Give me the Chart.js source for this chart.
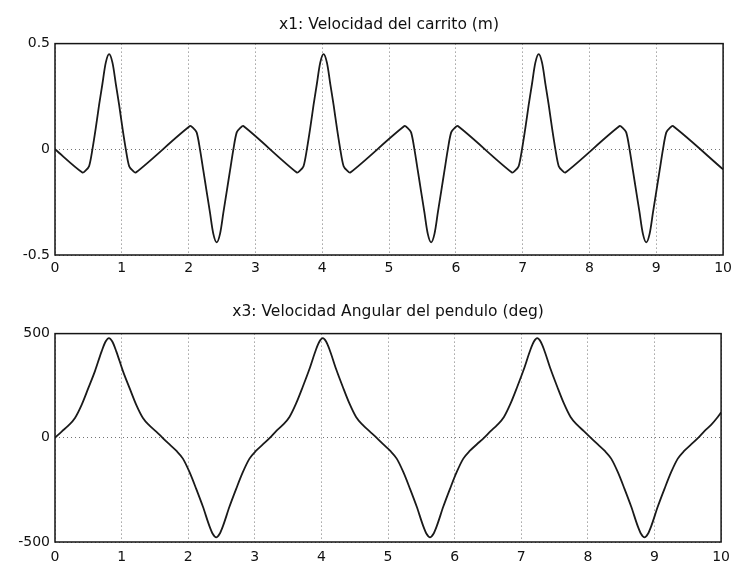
<!DOCTYPE html>
<html>
<head>
<meta charset="utf-8">
<script src="https://cdn.jsdelivr.net/npm/chart.js@4.4.1/dist/chart.umd.min.js"></script>
<style>
  html, body { margin: 0; padding: 0; background: #ffffff; }
  #c1 { position: absolute; left: 0; top: 0; }
  #c2 { position: absolute; left: 0; top: 290px; }
</style>
</head>
<body>
<canvas id="c1" width="737" height="290"></canvas>
<canvas id="c2" width="737" height="277"></canvas>
<script>
// ---------- data ----------
const titleTop = "x1: Velocidad del carrito (m)";
const titleBottom = "x3: Velocidad Angular del pendulo (deg)";

const xTicks = [0, 1, 2, 3, 4, 5, 6, 7, 8, 9, 10];
const yTicksTop = [-0.5, 0, 0.5];
const yTicksBottom = [-500, 0, 500];

// x1: cart velocity (m)
const timeTop = [
  0,
  0.41, 0.46, 0.51, 0.56, 0.61, 0.66, 0.71, 0.76, 0.81, 0.86, 0.91, 0.96, 1.01, 1.06, 1.11, 1.16, 1.21,
  2.02, 2.07, 2.12, 2.17, 2.22, 2.27, 2.32, 2.37, 2.42, 2.47, 2.52, 2.57, 2.62, 2.67, 2.72, 2.77, 2.82,
  3.62, 3.67, 3.72, 3.77, 3.82, 3.87, 3.92, 3.97, 4.02, 4.07, 4.12, 4.17, 4.22, 4.27, 4.32, 4.37, 4.42,
  5.23, 5.28, 5.33, 5.38, 5.43, 5.48, 5.53, 5.58, 5.63, 5.68, 5.73, 5.78, 5.83, 5.88, 5.93, 5.98, 6.03,
  6.84, 6.89, 6.94, 6.99, 7.04, 7.09, 7.14, 7.19, 7.24, 7.29, 7.34, 7.39, 7.44, 7.49, 7.54, 7.59, 7.64,
  8.45, 8.50, 8.55, 8.60, 8.65, 8.70, 8.75, 8.80, 8.85, 8.90, 8.95, 9.00, 9.05, 9.10, 9.15, 9.20, 9.25,
  10
];
const velTop = [
  0,
  -0.11, -0.10, -0.08, 0.00, 0.10, 0.21, 0.31, 0.41, 0.45, 0.41, 0.31, 0.21, 0.10, 0.00, -0.08, -0.10, -0.11,
  0.11, 0.10, 0.08, 0.00, -0.10, -0.20, -0.30, -0.40, -0.44, -0.40, -0.30, -0.20, -0.10, 0.00, 0.08, 0.10, 0.11,
  -0.11, -0.10, -0.08, 0.00, 0.10, 0.21, 0.31, 0.41, 0.45, 0.41, 0.31, 0.21, 0.10, 0.00, -0.08, -0.10, -0.11,
  0.11, 0.10, 0.08, 0.00, -0.10, -0.20, -0.30, -0.40, -0.44, -0.40, -0.30, -0.20, -0.10, 0.00, 0.08, 0.10, 0.11,
  -0.11, -0.10, -0.08, 0.00, 0.10, 0.21, 0.31, 0.41, 0.45, 0.41, 0.31, 0.21, 0.10, 0.00, -0.08, -0.10, -0.11,
  0.11, 0.10, 0.08, 0.00, -0.10, -0.20, -0.30, -0.40, -0.44, -0.40, -0.30, -0.20, -0.10, 0.00, 0.08, 0.10, 0.11,
  -0.095
];

// x3: pendulum angular velocity (deg)
const timeBottom = [
  0, 0.10, 0.20, 0.30, 0.40, 0.50, 0.60, 0.70, 0.76, 0.81, 0.86, 0.92, 1.02, 1.12, 1.22, 1.32, 1.42, 1.52, 1.615,
  1.72, 1.82, 1.92, 2.02, 2.12, 2.22, 2.32, 2.37, 2.42, 2.47, 2.52, 2.62, 2.72, 2.82, 2.92, 3.02, 3.12, 3.225,
  3.32, 3.42, 3.52, 3.62, 3.72, 3.82, 3.92, 3.97, 4.02, 4.07, 4.12, 4.22, 4.32, 4.42, 4.52, 4.62, 4.72, 4.83,
  4.93, 5.03, 5.13, 5.23, 5.33, 5.43, 5.53, 5.58, 5.63, 5.68, 5.73, 5.83, 5.93, 6.03, 6.13, 6.23, 6.33, 6.44,
  6.54, 6.64, 6.74, 6.84, 6.94, 7.04, 7.14, 7.19, 7.24, 7.29, 7.34, 7.44, 7.54, 7.64, 7.74, 7.84, 7.94, 8.045,
  8.15, 8.25, 8.35, 8.45, 8.55, 8.65, 8.75, 8.80, 8.85, 8.90, 8.95, 9.05, 9.15, 9.25, 9.35, 9.45, 9.55, 9.655,
  9.75, 9.85, 9.95, 10
];
const angVelBottom = [
  0, 30, 58, 95, 158, 238, 320, 415, 462, 478, 462, 415, 320, 238, 158, 95, 58, 30, 0,
  -32, -62, -100, -165, -245, -330, -425, -462, -478, -462, -425, -330, -245, -165, -100, -62, -32, 0,
  32, 62, 100, 165, 245, 330, 425, 462, 478, 462, 425, 330, 245, 165, 100, 62, 32, 0,
  -32, -62, -100, -165, -245, -330, -425, -462, -478, -462, -425, -330, -245, -165, -100, -62, -32, 0,
  32, 62, 100, 165, 245, 330, 425, 462, 478, 462, 425, 330, 245, 165, 100, 62, 32, 0,
  -32, -62, -100, -165, -245, -330, -425, -462, -478, -462, -425, -330, -245, -165, -100, -62, -32, 0,
  32, 62, 100, 122
];

// ---------- chart construction ----------
const FONT = "'DejaVu Sans', 'Liberation Sans', Arial, sans-serif";

const framePlugin = {
  id: 'frame',
  afterDraw(chart) {
    const a = chart.chartArea;
    const ctx = chart.ctx;
    ctx.save();
    ctx.strokeStyle = '#151515';
    ctx.lineWidth = 1.5;
    ctx.strokeRect(a.left, a.top, a.right - a.left, a.bottom - a.top);
    ctx.restore();
  }
};

function makeChart(canvasId, xs, ys, yTicks, title, titlePad, xAxisHeight, xLabelPad, tension, mode) {
  const pts = xs.map((x, i) => ({ x: x, y: ys[i] }));
  return new Chart(document.getElementById(canvasId), {
    type: 'line',
    data: {
      datasets: [{
        data: pts,
        borderColor: '#1a1a1a',
        borderWidth: 1.8,
        pointRadius: 0,
        fill: false,
        tension: tension,
        cubicInterpolationMode: mode
      }]
    },
    options: {
      responsive: false,
      animation: false,
      devicePixelRatio: 1,
      layout: { padding: { left: 0, right: 12, top: 0, bottom: 0 } },
      plugins: {
        legend: { display: false },
        tooltip: { enabled: false },
        title: {
          display: true,
          fullSize: false,
          text: title,
          color: '#111',
          font: { family: FONT, size: 15.5, weight: 'normal', lineHeight: 1.2 },
          padding: titlePad
        }
      },
      scales: {
        x: {
          type: 'linear',
          min: xTicks[0],
          max: xTicks[xTicks.length - 1],
          afterBuildTicks: (s) => { s.ticks = xTicks.map(v => ({ value: v })); },
          afterFit: (s) => { s.height = xAxisHeight; },
          ticks: {
            color: '#111',
            font: { family: FONT, size: 14 },
            padding: xLabelPad,
            maxRotation: 0,
            autoSkip: false
          },
          grid: {
            color: 'rgba(0,0,0,0.55)',
            lineWidth: 1,
            drawTicks: false
          },
          border: { display: false, dash: [1, 3] }
        },
        y: {
          type: 'linear',
          min: yTicks[0],
          max: yTicks[yTicks.length - 1],
          afterBuildTicks: (s) => { s.ticks = yTicks.map(v => ({ value: v })); },
          afterFit: (s) => { s.width = 55; },
          ticks: {
            color: '#111',
            font: { family: FONT, size: 14 },
            padding: 5,
            autoSkip: false
          },
          grid: {
            color: 'rgba(0,0,0,0.55)',
            lineWidth: 1,
            drawTicks: false
          },
          border: { display: false, dash: [1, 3] }
        }
      }
    },
    plugins: [framePlugin]
  });
}

makeChart('c1', timeTop, velTop, yTicksTop, titleTop, { top: 16, bottom: 9 }, 35, 5, 0.3, 'default');
makeChart('c2', timeBottom, angVelBottom, yTicksBottom, titleBottom, { top: 13, bottom: 12 }, 25, 7, 0.4, 'monotone');
</script>
</body>
</html>
